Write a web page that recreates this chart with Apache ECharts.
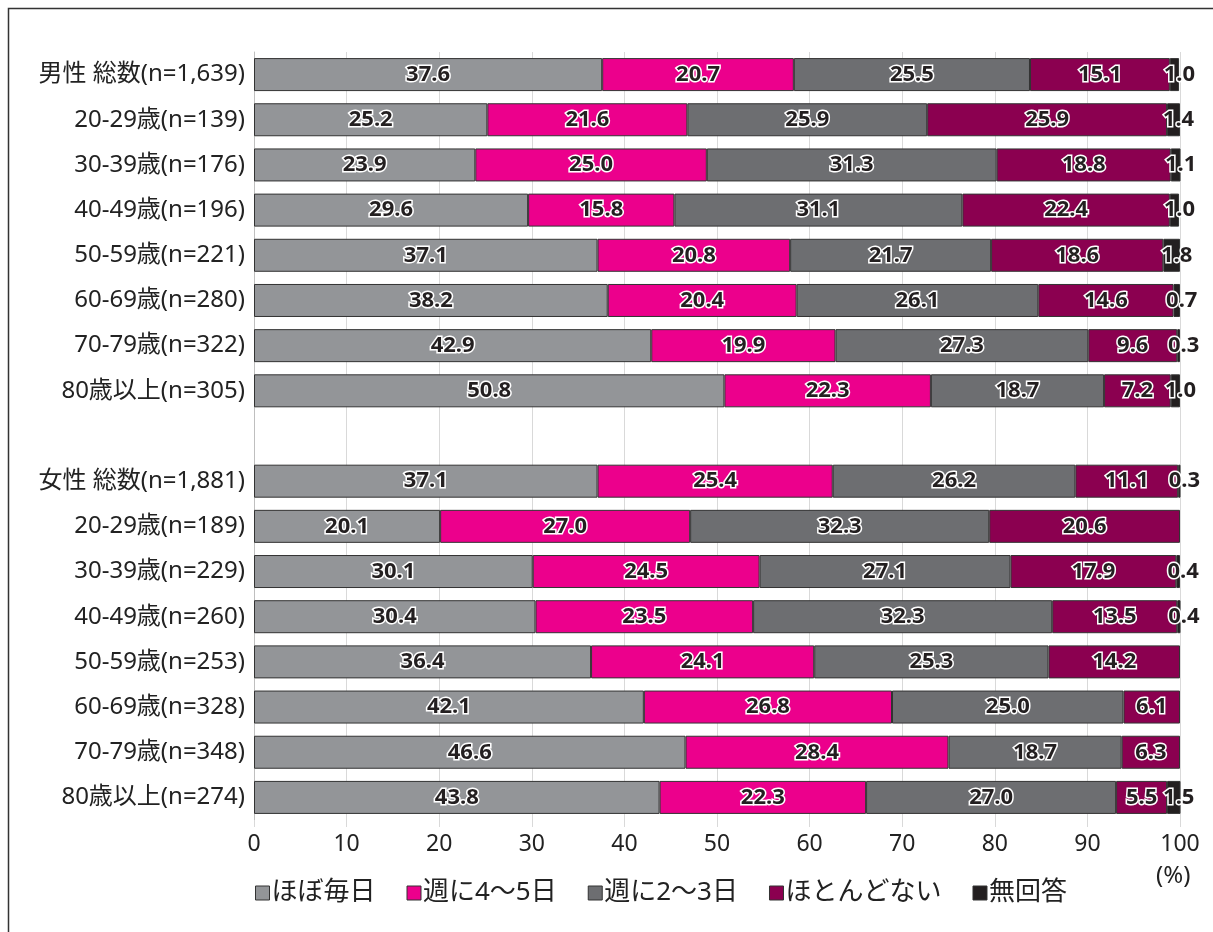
<!DOCTYPE html>
<html>
<head>
<meta charset="utf-8">
<script src="https://cdn.jsdelivr.net/npm/echarts@6/dist/echarts.min.js"></script>
<style>html,body{margin:0;padding:0;background:#fff;}#c{width:1213px;height:932px;}</style>
</head>
<body>
<div id="c"></div>
<script>
const categories = [
  '男性 総数(n=1,639)','20-29歳(n=139)','30-39歳(n=176)','40-49歳(n=196)','50-59歳(n=221)','60-69歳(n=280)','70-79歳(n=322)','80歳以上(n=305)',
  '',
  '女性 総数(n=1,881)','20-29歳(n=189)','30-39歳(n=229)','40-49歳(n=260)','50-59歳(n=253)','60-69歳(n=328)','70-79歳(n=348)','80歳以上(n=274)'
];
const seriesNames = ['ほぼ毎日','週に4～5日','週に2～3日','ほとんどない','無回答'];
const mainichi = [37.6,25.2,23.9,29.6,37.1,38.2,42.9,50.8, null, 37.1,20.1,30.1,30.4,36.4,42.1,46.6,43.8];
const shu45    = [20.7,21.6,25.0,15.8,20.8,20.4,19.9,22.3, null, 25.4,27.0,24.5,23.5,24.1,26.8,28.4,22.3];
const shu23    = [25.5,25.9,31.3,31.1,21.7,26.1,27.3,18.7, null, 26.2,32.3,27.1,32.3,25.3,25.0,18.7,27.0];
const hotondo  = [15.1,25.9,18.8,22.4,18.6,14.6,9.6,7.2, null, 11.1,20.6,17.9,13.5,14.2,6.1,6.3,5.5];
const muka     = [1.0,1.4,1.1,1.0,1.8,0.7,0.3,1.0, null, 0.3,null,0.4,0.4,null,null,null,1.5];
const xTicks = [0,10,20,30,40,50,60,70,80,90,100];

const colors = ['#939598','#EC008C','#6D6E71','#8B0050','#231F20'];
const values = [mainichi, shu45, shu23, hotondo, muka];
const FONT = '"Noto Sans", "Noto Sans CJK JP", sans-serif';

const series = seriesNames.map((n, i) => ({
  name: n,
  type: 'bar',
  stack: 'total',
  barWidth: 33,
  data: values[i],
  itemStyle: { color: colors[i], borderColor: '#333', borderWidth: 1 },
  label: {
    show: true,
    position: 'inside',
    offset: i === 4 ? [5, 0] : [0, 0],
    formatter: p => (p.value == null ? '' : Number(p.value).toFixed(1)),
    color: '#231F20',
    fontFamily: FONT,
    fontSize: 22,
    fontWeight: 'bold',
    textBorderColor: '#fff',
    textBorderWidth: 3
  },
  emphasis: { disabled: true }
}));

const chart = echarts.init(document.getElementById('c'));
chart.setOption({
  animation: false,
  textStyle: { fontFamily: FONT },
  grid: { left: 254, right: 33, top: 52, bottom: 112, containLabel: false },
  xAxis: {
    type: 'value', min: 0, max: 100, interval: 10,
    axisLine: { show: false },
    axisTick: { show: true, length: 7, lineStyle: { color: '#d9d9d9' } },
    splitLine: { show: true, lineStyle: { color: '#d9d9d9', width: 1 } },
    axisLabel: { color: '#222', fontSize: 23, fontFamily: FONT, margin: 13,
      formatter: v => xTicks.includes(v) ? String(v) : '' }
  },
  yAxis: {
    type: 'category', inverse: true, data: categories,
    axisLine: { show: true, lineStyle: { color: '#bfbfbf', width: 1 } },
    axisTick: { show: false },
    axisLabel: { color: '#222', fontSize: 24, fontFamily: FONT, margin: 9 }
  },
  legend: {
    left: 250, top: 875,
    itemWidth: 14, itemHeight: 14, itemGap: 31,
    icon: 'rect',
    textStyle: { color: '#222', fontSize: 26, fontFamily: FONT, padding: [0,0,0,-3] },
    data: seriesNames.map((n, i) => ({ name: n, itemStyle: { color: colors[i], borderColor: '#333', borderWidth: 1 } }))
  },
  graphic: [
    { type: 'rect', shape: { x: 8.5, y: 8.5, width: 1230, height: 960 }, style: { fill: 'none', stroke: '#333', lineWidth: 1.5 }, silent: true },
    { type: 'text', left: 1156, top: 864, style: { text: '(%)', font: '24px "Noto Sans", "Noto Sans CJK JP"', fill: '#222' } }
  ],
  series
});
</script>
</body>
</html>
